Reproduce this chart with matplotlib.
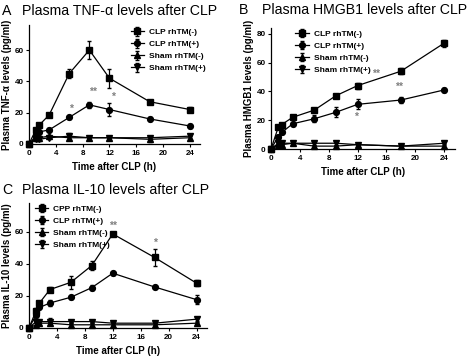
import matplotlib
matplotlib.use("Agg")
import matplotlib.pyplot as plt

plt.rcParams['font.family'] = ['Liberation Sans', 'DejaVu Sans']

hours = [0, 1, 1.5, 3, 6, 9, 12, 18, 24]

# Panel A: TNF-alpha
tnf_clp_neg = [0, 9, 12, 18.5, 45, 60, 42, 27, 22]
tnf_clp_neg_err = [0, 1, 1, 1, 3, 6, 6, 1, 1.5]
tnf_clp_pos = [0, 5, 7.7, 9, 17, 25, 22, 16, 11.5]
tnf_clp_pos_err = [0, 1, 1, 1, 1, 2, 4, 1, 1]
tnf_sham_neg = [0, 4, 4, 5, 4, 4, 4, 3, 4]
tnf_sham_neg_err = [0, 1, 1, 1, 1, 0.5, 0.5, 1.5, 1]
tnf_sham_pos = [0, 3, 3, 4, 5, 4, 4, 4, 5]
tnf_sham_pos_err = [0, 1, 1, 1, 2, 0.5, 0.5, 1, 1.5]
tnf_stars = [(6.3, 22.5, '*'), (9.5, 33.5, '**'), (12.5, 30, '*')]

# Panel B: HMGB1
hmg_clp_neg = [0, 15, 17, 22, 27, 37, 44, 54, 73.5]
hmg_clp_neg_err = [0, 1, 1, 1, 1, 1, 2, 2, 2.5]
hmg_clp_pos = [0, 8.5, 11.5, 17.5, 21, 25.5, 31, 34, 41]
hmg_clp_pos_err = [0, 1, 1, 1, 2.5, 3.5, 3.5, 2, 1.5]
hmg_sham_neg = [0, 3, 3, 4, 2, 2, 3, 2, 2]
hmg_sham_neg_err = [0, 1, 1, 1, 1, 1, 1, 1, 1.5]
hmg_sham_pos = [0, 4, 4, 4, 4, 4, 3, 2, 4]
hmg_sham_pos_err = [0, 1, 1, 1.5, 1, 1, 1, 1, 1]
hmg_stars = [(14.6, 52, '**'), (17.8, 43, '**'), (11.8, 22, '*')]

# Panel C: IL-10
il_clp_neg = [0, 10.7, 15.6, 24, 28.5, 39, 58.7, 44, 28]
il_clp_neg_err = [0, 1.5, 1.5, 1.5, 4, 2.5, 1.5, 5, 2]
il_clp_pos = [0, 8, 12.8, 15.6, 19.2, 25.2, 34.2, 25.6, 17.7]
il_clp_pos_err = [0, 1, 1, 2, 1, 1.5, 1, 0.8, 3]
il_sham_neg = [0, 2, 3, 3, 2, 2, 2, 2, 3]
il_sham_neg_err = [0, 1, 1, 1, 1, 1, 1, 1, 1]
il_sham_pos = [0, 4, 4, 4, 4, 4, 3, 3, 5.5]
il_sham_pos_err = [0, 1, 1, 2, 1, 1, 1, 1, 1]
il_stars = [(12.1, 64, '**'), (18.1, 53, '*')]

labels_ab = ['CLP rhTM(-)', 'CLP rhTM(+)', 'Sham rhTM(-)', 'Sham rhTM(+)']
labels_c = ['CPP rhTM(-)', 'CLP rhTM(+)', 'Sham rhTM(-)', 'Sham rhTM(+)']
markers = ['s', 'o', '^', 'v']

fig = plt.figure(figsize=(4.74, 3.57), dpi=100)
W, H = 474, 357


def px_axes(left, right, top, bottom):
    return fig.add_axes([left / W, 1 - bottom / H, (right - left) / W, (bottom - top) / H])


def panel(ax, series, labels, stars, ymax, yticks, ylabel, legend_loc, legend_anchor):
    for (y, e), lab, m in zip(series, labels, markers):
        ax.errorbar(hours, y, yerr=e, color='black', marker=m, markersize=4.2,
                    lw=0.9, elinewidth=0.9, capsize=1.3, label=lab, clip_on=False)
    for x, y, s in stars:
        ax.text(x, y, s, color='#808080', fontsize=7.5, ha='center', va='center',
                fontweight='bold')
    ax.set_xlim(0, 25.5)
    ax.set_ylim(0, ymax)
    ax.set_xticks([0, 4, 8, 12, 16, 20, 24])
    ax.set_yticks(yticks)
    ax.spines['top'].set_visible(False)
    ax.spines['right'].set_visible(False)
    for sp in ['left', 'bottom']:
        ax.spines[sp].set_linewidth(0.9)
    ax.tick_params(labelsize=5.8, width=0.8, length=2.5, pad=1.5)
    for t in ax.get_xticklabels() + ax.get_yticklabels():
        t.set_fontweight('bold')
    ax.set_xlabel('Time after CLP (h)', fontsize=7, fontweight='bold', labelpad=4)
    ax.set_ylabel(ylabel, fontsize=7, fontweight='bold', labelpad=2)
    ax.legend(loc=legend_loc, bbox_to_anchor=legend_anchor, frameon=False,
              prop={'size': 6, 'weight': 'bold'}, handlelength=1.6,
              handletextpad=0.6, labelspacing=0.5, borderpad=0.2)


axA = px_axes(29, 200, 25, 144)
panel(axA,
      [(tnf_clp_neg, tnf_clp_neg_err), (tnf_clp_pos, tnf_clp_pos_err),
       (tnf_sham_neg, tnf_sham_neg_err), (tnf_sham_pos, tnf_sham_pos_err)],
      labels_ab, tnf_stars, 76, [0, 20, 40, 60],
      'Plasma TNF-\u03b1 levels (pg/ml)', 'upper left', (0.56, 1.02))

axB = px_axes(271, 455, 28, 149)
panel(axB,
      [(hmg_clp_neg, hmg_clp_neg_err), (hmg_clp_pos, hmg_clp_pos_err),
       (hmg_sham_neg, hmg_sham_neg_err), (hmg_sham_pos, hmg_sham_pos_err)],
      labels_ab, hmg_stars, 84, [0, 20, 40, 60, 80],
      'Plasma HMGB1 levels (pg/ml)', 'upper left', (0.1, 1.03))

axC = px_axes(29, 207, 203, 328)
panel(axC,
      [(il_clp_neg, il_clp_neg_err), (il_clp_pos, il_clp_pos_err),
       (il_sham_neg, il_sham_neg_err), (il_sham_pos, il_sham_pos_err)],
      labels_c, il_stars, 78, [0, 20, 40, 60],
      'Plasma IL-10 levels (pg/ml)', 'upper left', (0.0, 1.03))

title_kw = dict(fontsize=10.2, va='center')
fig.text(2 / W, 1 - 11 / H, 'A', **title_kw)
fig.text(22 / W, 1 - 11 / H, 'Plasma TNF-\u03b1 levels after CLP', **title_kw)
fig.text(239 / W, 1 - 10 / H, 'B', **title_kw)
fig.text(262 / W, 1 - 10 / H, 'Plasma HMGB1 levels after CLP', **title_kw)
fig.text(2 / W, 1 - 190 / H, 'C', **title_kw)
fig.text(22 / W, 1 - 190 / H, 'Plasma IL-10 levels after CLP', **title_kw)

fig.savefig('out.png', dpi=100)
